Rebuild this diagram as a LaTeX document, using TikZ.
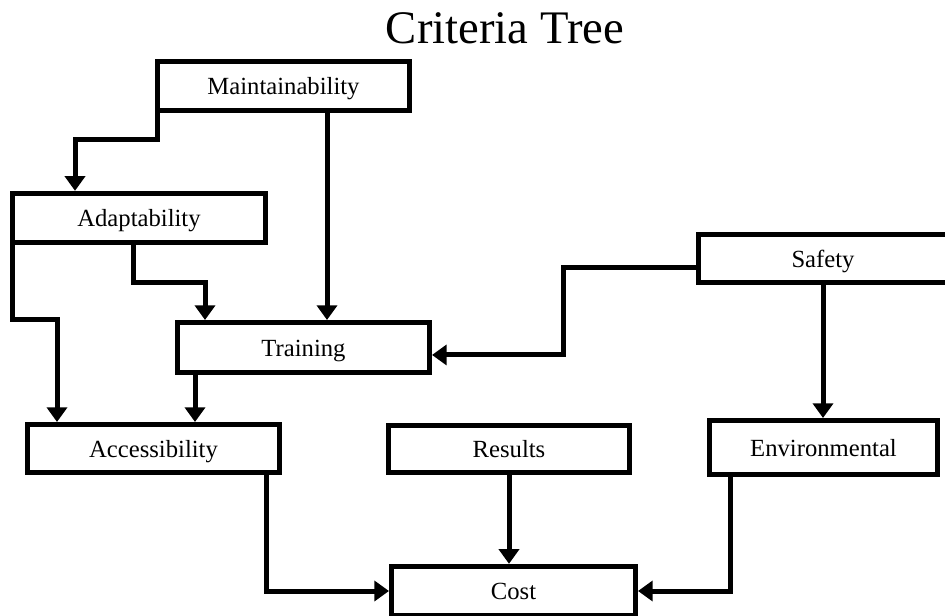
\documentclass[tikz,border=0pt]{standalone}
\usepackage{fontspec}
\setmainfont{Liberation Serif}
\usetikzlibrary{arrows.meta}

\begin{document}
\begin{tikzpicture}[x=0.75pt, y=-0.75pt, >={Triangle[length=11pt,width=15pt]},
      crit/.style={draw, line width=3.75pt, minimum width=189pt, minimum height=37pt, inner sep=0pt,
        text height=14pt, text depth=1pt, font=\fontsize{18.5}{20}\selectfont},
      link/.style={->, line width=3.75pt}]
    \useasboundingbox (0,0) rectangle (945,616);
    \node[font=\fontsize{35}{40}\selectfont, anchor=base] (title) at (505,44) {Criteria Tree};
    \node[crit] (maint) at (283.5,86) {Maintainability};
    \node[crit, minimum width=190pt] (adapt) at (139,218) {Adaptability};
    \node[crit, minimum height=37.5pt] (train) at (303.5,347.5) {Training};
    \node[crit, minimum width=187pt, minimum height=36pt] (safety) at (823,258.5) {Safety};
    \node[crit, minimum height=36pt] (access) at (153.5,448.5) {Accessibility};
    \node[crit, minimum width=181pt, minimum height=35pt] (results) at (509,449) {Results};
    \node[crit, minimum width=171pt, minimum height=40.5pt] (env) at (823.5,447.5) {Environmental};
    \node[crit, minimum width=183pt] (cost) at (513.5,591) {Cost};
    % bend points
    \coordinate (mbend) at (75,140);
    \coordinate (mtx) at (327,0);
    \coordinate (abend) at (57,320);
    \coordinate (atx) at (133,283);
    \coordinate (atx2) at (205,283);
    \coordinate (tax) at (195,0);
    \coordinate (sbend) at (563,300);
    \coordinate (acx) at (266,0);
    \coordinate (ecx) at (730,0);
    \draw[link] ([xshift=1.9pt]maint.south west) |- (mbend) -- (adapt.north -| mbend);
    \draw[link] (maint.south -| mtx) -- (train.north -| mtx);
    \draw[link] ([xshift=1.9pt]adapt.south west) |- (abend) -- (access.north -| abend);
    \draw[link] (adapt.south -| atx) -- (atx) -- (atx2) -- (train.north -| atx2);
    \draw[link] (train.south -| tax) -- (access.north -| tax);
    \draw[link] ([yshift=-7pt]safety.west) -| (sbend) |- ([yshift=-5.6pt]train.east);
    \draw[link] (safety.south) -- (env.north -| safety.south);
    \draw[link] (access.south -| acx) |- (cost.west);
    \draw[link] (results.south) -- (cost.north -| results.south);
    \draw[link] (env.south -| ecx) |- (cost.east);
  \end{tikzpicture}
\end{document}
